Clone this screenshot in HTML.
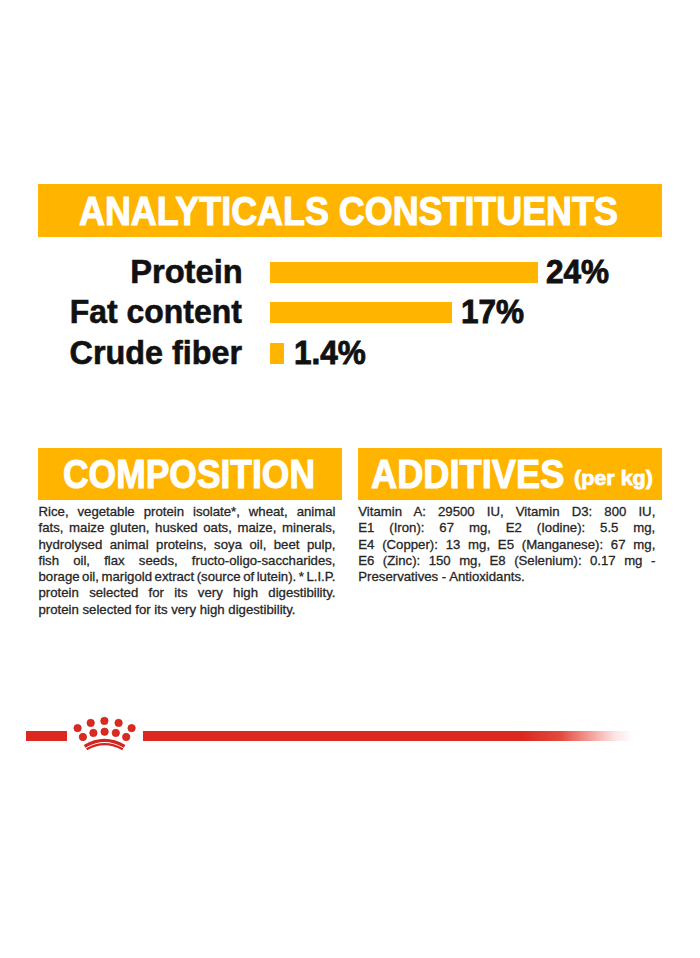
<!DOCTYPE html>
<html><head><meta charset="utf-8"><title>Analyticals constituents</title>
<style>
html,body{margin:0;padding:0;background:#fff;}
body{width:700px;height:958px;position:relative;overflow:hidden;font-family:"Liberation Sans",Arial,sans-serif;}
.a{position:absolute;white-space:nowrap;}
.y{background:#FFB400;}
.bn{position:absolute;background:#FFB400;}
.t{position:absolute;white-space:nowrap;color:#fff;font-weight:bold;line-height:1;-webkit-text-stroke:1.1px #fff;}
.lb{position:absolute;white-space:nowrap;color:#111;font-weight:bold;line-height:1;font-size:33px;-webkit-text-stroke:.6px #111;}
.pc{position:absolute;white-space:nowrap;color:#111;font-weight:bold;line-height:1;font-size:33.5px;transform-origin:0 0;transform:scaleX(.94);-webkit-text-stroke:.9px #111;}
.bar{position:absolute;background:#FFB400;}
.p{position:absolute;width:297px;font-size:13.2px;line-height:16.3px;color:#262626;-webkit-text-stroke:.3px #262626;}
.p div{text-align:justify;text-align-last:justify;white-space:nowrap;height:16.3px;}
.p div.l{text-align-last:left;}
.red{position:absolute;background:#DB2821;}
</style></head>
<body>
<!-- title banner -->
<div class="bn" style="left:38px;top:184px;width:624px;height:53px;"></div>
<div class="t" style="left:79.4px;top:191.4px;font-size:40px;transform-origin:0 0;transform:scaleX(.897);">ANALYTICALS CONSTITUENTS</div>

<!-- rows -->
<div class="lb" style="right:457.5px;top:254.5px;transform-origin:100% 0;transform:scaleX(.99);">Protein</div>
<div class="bar" style="left:270px;top:262px;width:268px;height:21px;"></div>
<div class="pc" style="left:546px;top:254.6px;">24%</div>

<div class="lb" style="right:457.8px;top:295.2px;transform-origin:100% 0;transform:scaleX(.967);">Fat content</div>
<div class="bar" style="left:270px;top:302px;width:182px;height:21px;"></div>
<div class="pc" style="left:461px;top:294.6px;">17%</div>

<div class="lb" style="right:458.4px;top:335.8px;transform-origin:100% 0;transform:scaleX(.98);">Crude fiber</div>
<div class="bar" style="left:270px;top:343px;width:14px;height:21px;"></div>
<div class="pc" style="left:294px;top:335.6px;">1.4%</div>

<!-- composition / additives banners -->
<div class="bn" style="left:38px;top:447.5px;width:304px;height:52.5px;"></div>
<div class="t" style="left:62.6px;top:453.7px;font-size:40.5px;transform-origin:0 0;transform:scaleX(.875);">COMPOSITION</div>
<div class="bn" style="left:358px;top:447.5px;width:304px;height:52.5px;"></div>
<div class="t" style="left:370.6px;top:453.7px;font-size:40.5px;transform-origin:0 0;transform:scaleX(.895);">ADDITIVES</div>
<div class="t" style="left:574.4px;top:467.2px;font-size:21px;transform-origin:0 0;transform:scaleX(1.025);-webkit-text-stroke:.8px #fff;">(per kg)</div>

<div class="p" style="left:38.5px;top:504px;">
<div>Rice, vegetable protein isolate*, wheat, animal</div>
<div>fats, maize gluten, husked oats, maize, minerals,</div>
<div>hydrolysed animal proteins, soya oil, beet pulp,</div>
<div>fish oil, flax seeds, fructo-oligo-saccharides,</div>
<div style="word-spacing:-1.3px;">borage oil, marigold extract (source of lutein). * L.I.P.</div>
<div>protein selected for its very high digestibility.</div>
<div class="l">protein selected for its very high digestibility.</div>
</div>

<div class="p" style="left:358.3px;top:504px;">
<div>Vitamin A: 29500 IU, Vitamin D3: 800 IU,</div>
<div>E1 (Iron): 67 mg, E2 (Iodine): 5.5 mg,</div>
<div>E4 (Copper): 13 mg, E5 (Manganese): 67 mg,</div>
<div>E6 (Zinc): 150 mg, E8 (Selenium): 0.17 mg -</div>
<div class="l">Preservatives - Antioxidants.</div>
</div>

<!-- red line with crown -->
<div class="red" style="left:26px;top:730.5px;width:40.5px;height:10px;"></div>
<div class="red" style="left:143px;top:730.5px;width:490px;height:10px;background:linear-gradient(90deg,#DB2821 0,#DB2821 379px,rgba(224,58,44,.92) 417px,rgba(234,88,78,.75) 437px,rgba(240,118,112,.5) 457px,rgba(245,150,150,.25) 472px,rgba(245,170,170,0) 490px);"></div>
<svg class="a" style="left:0;top:0;" width="700" height="958" viewBox="0 0 700 958">
<g fill="#DC2A20" stroke="#C22019" stroke-width=".7">
<circle cx="104.4" cy="720.9" r="3.7"/>
<circle cx="90.7" cy="722.9" r="3.7"/>
<circle cx="118.6" cy="722.9" r="3.7"/>
<circle cx="77.6" cy="728.1" r="3.7"/>
<circle cx="131.6" cy="728.1" r="3.7"/>
<circle cx="93.4" cy="732.9" r="3.7"/>
<circle cx="104.6" cy="731.7" r="3.7"/>
<circle cx="115.8" cy="732.9" r="3.7"/>
<circle cx="82.9" cy="737" r="3.7"/>
<circle cx="126.2" cy="737" r="3.7"/>
</g>
<g fill="none" stroke="#D2251D">
<path d="M84.6 746.4 Q104.5 734.4 124.6 746.4" stroke-width="3.2"/>
<path d="M86.6 749.2 Q104.5 739 122.8 749.2" stroke-width="2.2"/>
</g>
</svg>
</body></html>
